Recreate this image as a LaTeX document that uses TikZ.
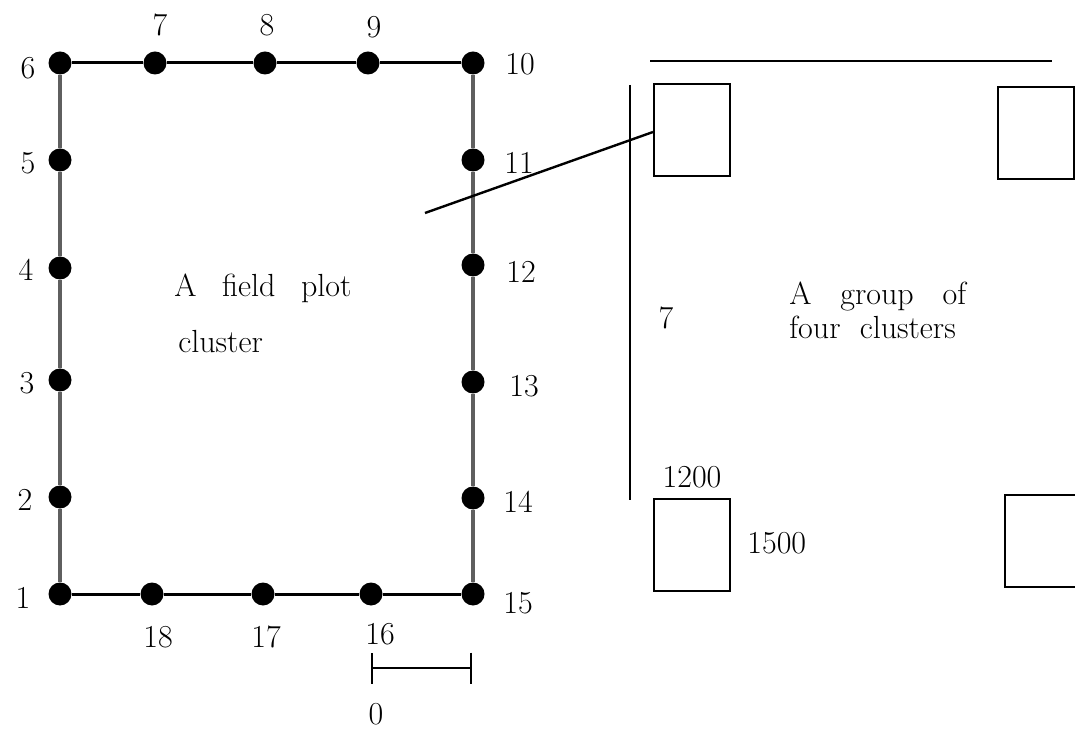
\documentclass[tikz,border=0pt]{standalone}
\usepackage{tikz}
\usetikzlibrary{arrows.meta,positioning}
\definecolor{sideGray}{RGB}{95,95,95}
\tikzset{
  plotdot/.style={circle, fill=black, inner sep=0pt, minimum size=11.5pt},
  numlabel/.style={font=\fontsize{16}{19}\selectfont, inner sep=0pt},
  edgeline/.style={line width=1.5pt, color=black},
  sideline/.style={line width=1.7pt, color=sideGray},
  subplot/.style={rectangle, draw=black, line width=1pt,
    minimum width=38pt, minimum height=46pt, inner sep=0pt},
  thinline/.style={line width=1pt, color=black}
}
\begin{document}
\begin{tikzpicture}[x=0.5pt, y=-0.5pt]
  \useasboundingbox (0,0) rectangle (1075,731);

  % the cluster of 18 subplots
  \foreach \n/\x/\y in {1/60/594, 2/60/497, 3/60/380, 4/60/268, 5/60/160,
                         6/60/63, 7/155/63, 8/265/63, 9/368/63, 10/473/63,
                         11/473/160, 12/473/265, 13/473/382, 14/473/498,
                         15/473/594, 16/371/594, 17/263/594, 18/152/594}
    \node[plotdot] (p\n) at (\x,\y) {};
  \draw[edgeline] (p6) -- (p7) -- (p8) -- (p9) -- (p10);
  \draw[edgeline] (p1) -- (p18) -- (p17) -- (p16) -- (p15);
  \draw[sideline] (p6) -- (p5) -- (p4) -- (p3) -- (p2) -- (p1);
  \draw[sideline] (p10) -- (p11) -- (p12) -- (p13) -- (p14) -- (p15);

  \foreach \n/\x/\y in {1/23/598, 2/25/500, 3/27/383, 4/26/270, 5/28/163,
                         6/28/68, 7/160/25, 8/267/25, 9/374/27, 10/520/64,
                         11/519/163, 12/521/272, 13/524/386, 14/518/502,
                         15/518/603, 16/380/634, 17/266/637, 18/158/637}
    \node[numlabel] (l\n) at (\x,\y) {\n};

  \node[numlabel, align=left, anchor=west] (plotname) at (174,313)
    {A\hspace{0.8em}field\hspace{0.8em}plot\\[9pt]\hspace{2pt}cluster};

  % scale bar
  \coordinate (bar0) at (371,668);
  \coordinate (bar1) at (472,668);
  \draw[thinline, {Bar[width=15.5pt]}-{Bar[width=15.5pt]}] (bar0) -- (bar1);
  \node[numlabel] (barlbl) at (376,714) {0};

  % group of four clusters
  \node[subplot] (sqA) at (692,130) {};
  \node[subplot] (sqB) at (1036,133) {};
  \node[subplot] (sqC) at (692,545) {};
  \node[subplot] (sqD) at (1043,541) {};

  \coordinate (topL) at (650,61);
  \coordinate (topR) at (1052,61);
  \coordinate (sideT) at (630,85);
  \coordinate (sideB) at (630,500);
  \draw[thinline] (topL) -- (topR);
  \draw[thinline] (sideT) -- (sideB);

  \coordinate (lead) at (425,213);
  \draw[thinline, line width=1.2pt] (lead) -- ([yshift=-1pt]sqA.west);

  \node[numlabel] (dist) at (666,318) {7};
  \node[numlabel, above=5pt of sqC] (wlbl) {1200};
  \node[numlabel, right=8pt of sqC, yshift=1pt] (hlbl) {1500};
  \node[numlabel, align=left, anchor=west] (groupname) at (789,310)
    {A\hspace{0.9em}group\hspace{0.9em}of\\[-2pt]four\hspace{0.6em}clusters};
\end{tikzpicture}
\end{document}
